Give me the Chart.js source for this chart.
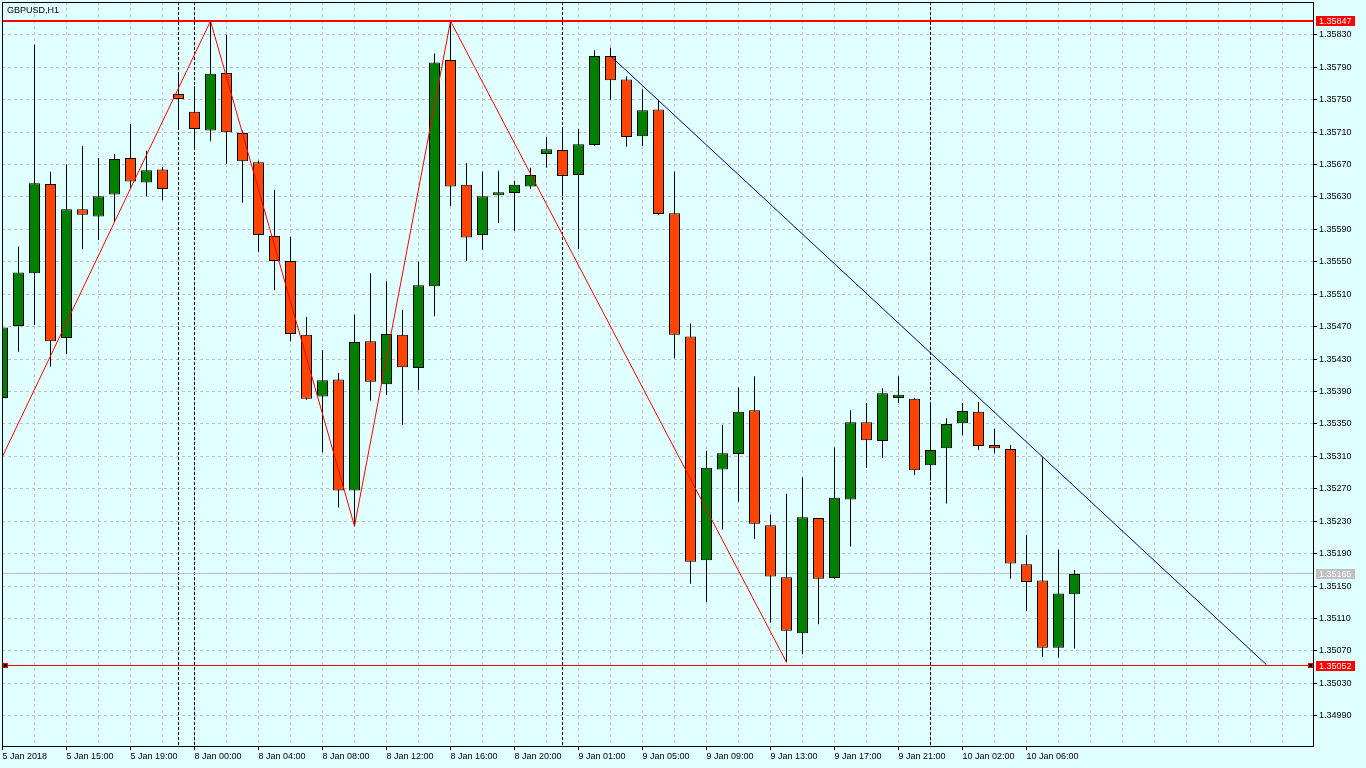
<!DOCTYPE html>
<html>
<head>
<meta charset="utf-8">
<script src="https://cdn.jsdelivr.net/npm/chart.js@4.4.1/dist/chart.umd.min.js"></script>
<style>
html,body{margin:0;padding:0;background:#e0ffff;overflow:hidden}
canvas{display:block}
</style>
</head>
<body>
<canvas id="c" width="1366" height="768"></canvas>
<script>
// ---- data (GBPUSD, H1) ----
const symbolTitle = 'GBPUSD,H1';
const opens  = [1.35382,1.35471,1.35536,1.35646,1.35456,1.35615,1.35606,1.35633,1.35678,1.35648,
                1.35664,1.35757,1.35735,1.35712,1.35783,1.35709,1.35673,1.35582,1.35551,1.35460,
                1.35384,1.35405,1.35268,1.35452,1.35399,1.35460,1.35419,1.35520,1.35799,1.35645,
                1.35583,1.35632,1.35635,1.35643,1.35683,1.35688,1.35657,1.35694,1.35804,1.35775,
                1.35705,1.35738,1.35610,1.35458,1.35182,1.35294,1.35313,1.35367,1.35225,1.35161,
                1.35092,1.35234,1.35160,1.35257,1.35352,1.35329,1.35382,1.35381,1.35299,1.35320,
                1.35351,1.35365,1.35324,1.35319,1.35177,1.35157,1.35074,1.35140];
const highs  = [1.35477,1.35569,1.35818,1.35661,1.35670,1.35693,1.35678,1.35683,1.35720,1.35687,
                1.35667,1.35781,1.35767,1.35847,1.35830,1.35712,1.35675,1.35639,1.35581,1.35482,
                1.35441,1.35413,1.35485,1.35536,1.35526,1.35491,1.35550,1.35807,1.35847,1.35672,
                1.35661,1.35662,1.35650,1.35666,1.35704,1.35714,1.35714,1.35811,1.35814,1.35779,
                1.35763,1.35749,1.35661,1.35474,1.35317,1.35349,1.35395,1.35409,1.35238,1.35264,
                1.35284,1.35234,1.35321,1.35367,1.35376,1.35394,1.35409,1.35382,1.35376,1.35357,
                1.35376,1.35377,1.35344,1.35324,1.35213,1.35309,1.35195,1.35170];
const lows   = [1.35379,1.35439,1.35472,1.35421,1.35436,1.35566,1.35577,1.35599,1.35641,1.35631,
                1.35626,1.35716,1.35689,1.35699,1.35671,1.35623,1.35562,1.35515,1.35452,1.35380,
                1.35315,1.35247,1.35224,1.35379,1.35386,1.35349,1.35392,1.35483,1.35619,1.35551,
                1.35565,1.35598,1.35588,1.35640,1.35666,1.35631,1.35566,1.35693,1.35750,1.35692,
                1.35693,1.35608,1.35431,1.35153,1.35130,1.35220,1.35254,1.35208,1.35105,1.35056,
                1.35066,1.35103,1.35159,1.35199,1.35296,1.35308,1.35376,1.35287,1.35280,1.35252,
                1.35336,1.35318,1.35314,1.35159,1.35119,1.35063,1.35062,1.35073];
const closes = [1.35469,1.35537,1.35647,1.35452,1.35615,1.35608,1.35631,1.35677,1.35649,1.35663,
                1.35640,1.35751,1.35714,1.35782,1.35710,1.35674,1.35583,1.35551,1.35461,1.35381,
                1.35404,1.35268,1.35451,1.35402,1.35461,1.35420,1.35521,1.35796,1.35643,1.35580,
                1.35631,1.35636,1.35645,1.35657,1.35689,1.35656,1.35695,1.35804,1.35774,1.35704,
                1.35737,1.35609,1.35460,1.35180,1.35296,1.35314,1.35365,1.35227,1.35162,1.35095,
                1.35235,1.35159,1.35259,1.35352,1.35330,1.35388,1.35386,1.35293,1.35318,1.35350,
                1.35366,1.35323,1.35320,1.35178,1.35155,1.35074,1.35141,1.35165];

const xTickBars   = [0,4,8,12,16,20,24,28,32,36,40,44,48,52,56,60,64];
const xTickLabels = ['5 Jan 2018','5 Jan 15:00','5 Jan 19:00','8 Jan 00:00','8 Jan 04:00','8 Jan 08:00',
                     '8 Jan 12:00','8 Jan 16:00','8 Jan 20:00','9 Jan 01:00','9 Jan 05:00','9 Jan 09:00',
                     '9 Jan 13:00','9 Jan 17:00','9 Jan 21:00','10 Jan 02:00','10 Jan 06:00'];
const priceTicks  = [1.34990,1.35030,1.35070,1.35110,1.35150,1.35190,1.35230,1.35270,1.35310,1.35350,1.35390,
                     1.35430,1.35470,1.35510,1.35550,1.35590,1.35630,1.35670,1.35710,1.35750,1.35790,1.35830];

const zigzagBars   = [0,13,22,28,49];
const zigzagPrices = [1.35310,1.35847,1.35224,1.35847,1.35056];
const trendBars    = [38,79];
const trendPrices  = [1.35804,1.35053];
const separatorBars = [11,12,35,58];
const highLevel = 1.35847;
const lowLevel  = 1.35052;
const bidLevel  = 1.35165;

// ---- chart ----
const FONT = "'Liberation Sans', Arial, sans-serif";
const BULL = '#008000', BEAR = '#ff4500';
const idx = opens.map((_, i) => i);
const bodyData = idx.map(i => ({x: i, y: [opens[i], closes[i]]}));
const wickData = idx.map(i => ({x: i, y: [lows[i], highs[i]]}));
const bodyColors = idx.map(i => closes[i] >= opens[i] ? BULL : BEAR);
const zigzagData = zigzagBars.map((b, i) => ({x: b, y: zigzagPrices[i]}));
const trendData = trendBars.map((b, i) => ({x: b, y: trendPrices[i]}));

function alignPx(v) { return Math.floor(v) + 0.5; }

const overlayPlugin = {
  id: 'overlay',
  beforeDraw(chart) {
    const {ctx} = chart;
    ctx.save();
    ctx.fillStyle = '#e0ffff';
    ctx.fillRect(0, 0, chart.width, chart.height);
    ctx.restore();
  },
  beforeDatasetsDraw(chart) {
    const {ctx, chartArea: a, scales: {x, y}} = chart;
    ctx.save();
    ctx.beginPath();
    ctx.rect(a.left, a.top, a.right - a.left, a.bottom - a.top);
    ctx.clip();
    // period separators
    ctx.strokeStyle = '#000';
    ctx.lineWidth = 1;
    ctx.setLineDash([3, 2]);
    separatorBars.forEach(b => {
      const px = alignPx(x.getPixelForValue(b));
      ctx.beginPath();
      ctx.moveTo(px, a.top);
      ctx.lineTo(px, a.bottom);
      ctx.stroke();
    });
    ctx.setLineDash([]);
    // bid line (behind candles)
    const by = alignPx(y.getPixelForValue(bidLevel));
    ctx.strokeStyle = '#c0c0c0';
    ctx.beginPath();
    ctx.moveTo(a.left, by);
    ctx.lineTo(a.right, by);
    ctx.stroke();
    ctx.restore();
  },
  afterDatasetsDraw(chart) {
    const {ctx, chartArea: a, scales: {y}} = chart;
    ctx.save();
    ctx.beginPath();
    ctx.rect(a.left, a.top, a.right - a.left, a.bottom - a.top);
    ctx.clip();
    // high level (2px red)
    const hy = Math.round(y.getPixelForValue(highLevel));
    ctx.strokeStyle = '#ff0000';
    ctx.lineWidth = 2;
    ctx.beginPath();
    ctx.moveTo(a.left, hy);
    ctx.lineTo(a.right, hy);
    ctx.stroke();
    // low level (1px red) with anchors
    const ly = alignPx(y.getPixelForValue(lowLevel));
    ctx.lineWidth = 1;
    ctx.beginPath();
    ctx.moveTo(a.left, ly);
    ctx.lineTo(a.right, ly);
    ctx.stroke();
    ctx.restore();
    ctx.save();
    [a.left + 1, a.right - 5].forEach(ax => {
      ctx.fillStyle = '#ff0000';
      ctx.fillRect(ax, ly - 2.5, 5, 5);
      ctx.fillStyle = '#000';
      ctx.fillRect(ax + 1, ly - 1.5, 3, 3);
    });
    ctx.restore();
  },
  afterDraw(chart) {
    const {ctx, chartArea: a, scales: {y}} = chart;
    ctx.save();
    // frame
    ctx.strokeStyle = '#000';
    ctx.lineWidth = 1;
    ctx.strokeRect(a.left + 0.5, a.top + 0.5, a.right - a.left, a.bottom - a.top);
    // title
    ctx.fillStyle = '#000';
    ctx.font = '9px ' + FONT;
    ctx.textBaseline = 'alphabetic';
    ctx.textAlign = 'left';
    ctx.fillText(symbolTitle, 7, 13);
    // price labels on the axis
    const boxes = [[highLevel, '#ff0000'], [bidLevel, '#c0c0c0'], [lowLevel, '#ff0000']];
    boxes.forEach(([p, col]) => {
      const py = Math.round(y.getPixelForValue(p));
      ctx.fillStyle = col;
      ctx.fillRect(a.right + 3, py - 5, 39, 10);
      ctx.fillStyle = '#ffffff';
      ctx.textBaseline = 'middle';
      ctx.fillText(p.toFixed(5), a.right + 6, py + 0.5);
    });
    ctx.restore();
  }
};

new Chart(document.getElementById('c'), {
  type: 'bar',
  data: {
    datasets: [
      {
        type: 'line', label: 'zigzag', data: zigzagData, order: 0,
        borderColor: '#ff0000', borderWidth: 1, pointRadius: 0, tension: 0, fill: false
      },
      {
        type: 'line', label: 'trend', data: trendData, order: 0,
        borderColor: '#000080', borderWidth: 1, pointRadius: 0, tension: 0, fill: false
      },
      {
        label: 'body', data: bodyData, order: 1,
        backgroundColor: bodyColors, borderColor: '#000', borderWidth: 1,
        borderSkipped: false, barThickness: 11, grouped: false, inflateAmount: 0
      },
      {
        label: 'wick', data: wickData, order: 2,
        backgroundColor: '#000', borderWidth: 0,
        borderSkipped: false, barThickness: 1, grouped: false, inflateAmount: 0
      }
    ]
  },
  options: {
    responsive: false,
    animation: false,
    devicePixelRatio: 1,
    events: [],
    layout: {padding: {left: 2, top: 2, right: 0, bottom: 0}},
    plugins: {legend: {display: false}, tooltip: {enabled: false}, title: {display: false}},
    scales: {
      x: {
        type: 'linear',
        offset: false,
        min: -0.03125,
        max: 81.90625,
        afterFit(s) { s.height = 22; s.paddingLeft = 0; s.paddingRight = 0; },
        afterBuildTicks(s) {
          const t = [];
          for (let v = 0; v <= 80; v += 2) t.push({value: v});
          s.ticks = t;
        },
        ticks: {
          autoSkip: false, maxRotation: 0, minRotation: 0, align: 'start', padding: 1,
          color: '#000', font: {family: FONT, size: 9},
          callback(v) {
            const k = xTickBars.indexOf(v);
            return k >= 0 ? xTickLabels[k] : '';
          }
        },
        grid: {
          offset: false,
          color: '#c0c0c0', lineWidth: 1, tickLength: 4,
          tickColor: (c) => (c.tick && xTickBars.indexOf(c.tick.value) >= 0) ? '#000' : 'rgba(0,0,0,0)'
        },
        border: {display: true, color: '#000', width: 1, dash: [3, 3]}
      },
      y: {
        type: 'linear',
        position: 'right',
        min: 1.3495281,
        max: 1.3587052,
        afterFit(s) { s.width = 53; s.paddingTop = 0; s.paddingBottom = 0; },
        afterBuildTicks(s) { s.ticks = priceTicks.map(v => ({value: v})); },
        ticks: {
          padding: 2, color: '#000', font: {family: FONT, size: 9},
          callback(v) { return Number(v).toFixed(5); }
        },
        grid: {color: '#c0c0c0', lineWidth: 1, tickLength: 4, tickColor: '#000'},
        border: {display: true, color: '#000', width: 1, dash: [3, 3]}
      }
    }
  },
  plugins: [overlayPlugin]
});
</script>
</body>
</html>
